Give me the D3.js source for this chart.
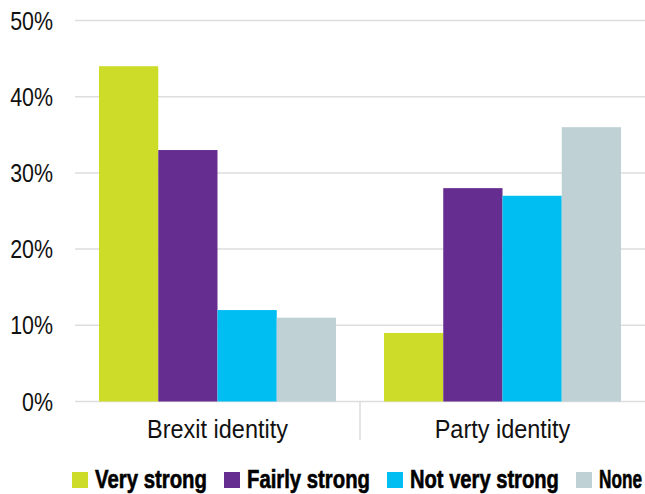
<!DOCTYPE html>
<html><head><meta charset="utf-8">
<script src="https://cdn.jsdelivr.net/npm/d3@7"></script>
<style>html,body{margin:0;padding:0;background:#fff;}</style>
</head><body>
<svg id="chart" width="645" height="494"></svg>
<script>
const categories = ["Brexit identity", "Party identity"];
const seriesNames = ["Very strong", "Fairly strong", "Not very strong", "None"];
const veryStrong = [44, 9];
const fairlyStrong = [33, 28];
const notVeryStrong = [12, 27];
const none = [11, 36];
const yTicks = [0, 10, 20, 30, 40, 50];
const colors = ["#CDDC29", "#652D8F", "#00BEF2", "#BFD1D5"];

const seriesValues = [veryStrong, fairlyStrong, notVeryStrong, none];
const svg = d3.select("#chart");
const mLeft = 75, mRight = 645, mTop = 20.5, mBottom = 401.5;
const font = "'Liberation Sans', Arial, sans-serif";

const x0 = d3.scaleBand().domain(categories).range([mLeft, mRight]).paddingInner(0).paddingOuter(0);
const x1 = d3.scaleBand().domain(seriesNames).range([24, x0.bandwidth() - 24]).padding(0);
const y = d3.scaleLinear().domain([0, 50]).range([mBottom, mTop]);

// gridlines
svg.append("g").selectAll("line").data(yTicks).join("line")
  .attr("x1", mLeft).attr("x2", mRight)
  .attr("y1", d => y(d)).attr("y2", d => y(d))
  .attr("stroke", "#DDDDDD").attr("stroke-width", 1.5);

// y labels (condensed)
svg.append("g").selectAll("g").data(yTicks).join("g")
  .attr("transform", d => `translate(53,${y(d) + 9}) scale(0.84,1)`)
  .append("text")
  .attr("text-anchor", "end")
  .attr("font-family", font).attr("font-size", 25.5)
  .attr("fill", "#111")
  .text(d => d + "%");

// bars
const groups = svg.append("g").selectAll("g").data(categories).join("g")
  .attr("transform", c => `translate(${x0(c)},0)`);
groups.selectAll("rect").data((c, ci) => seriesNames.map((s, si) => ({s, si, v: seriesValues[si][ci]})))
  .join("rect")
  .attr("x", d => x1(d.s))
  .attr("width", x1.bandwidth())
  .attr("y", d => y(d.v))
  .attr("height", d => y(0) - y(d.v))
  .attr("fill", d => colors[d.si]);

// separator
svg.append("line")
  .attr("x1", x0(categories[1])).attr("x2", x0(categories[1]))
  .attr("y1", mBottom).attr("y2", 440)
  .attr("stroke", "#DDDDDD").attr("stroke-width", 1.5);

// category labels
svg.append("g").selectAll("g").data(categories).join("g")
  .attr("transform", c => `translate(${x0(c) + x0.bandwidth() / 2},438) scale(0.92,1)`)
  .append("text")
  .attr("text-anchor", "middle")
  .attr("font-family", font).attr("font-size", 25.5)
  .attr("fill", "#111")
  .text(c => c);

// legend: swatches laid out by a point scale, text squeezed to fit
const legendX = d3.scalePoint().domain(seriesNames).range([72, 576]);
const legendStarts = [72, 224, 387, 576];
const leg = svg.append("g");
seriesNames.forEach((s, i) => {
  const sxPos = legendStarts[i];
  const endPos = i < seriesNames.length - 1 ? legendStarts[i + 1] - 17 : 642;
  leg.append("rect").attr("x", sxPos).attr("y", 472).attr("width", 16).attr("height", 16).attr("fill", colors[i]);
  const g = leg.append("g");
  const t = g.append("text")
    .attr("font-family", font).attr("font-weight", "bold").attr("font-size", 25)
    .attr("fill", "#000").attr("stroke", "#000").attr("stroke-width", 0.6)
    .text(s);
  const natural = t.node().getComputedTextLength();
  const k = (endPos - (sxPos + 23)) / natural;
  g.attr("transform", `translate(${sxPos + 23},488) scale(${k},1)`);
});
</script>
</body></html>
